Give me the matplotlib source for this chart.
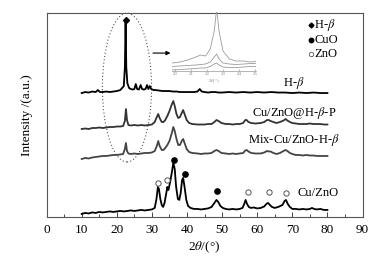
import matplotlib
matplotlib.use("Agg")
import matplotlib.pyplot as plt
from matplotlib.patches import Ellipse

plt.rcParams['font.family'] = ['Liberation Serif', 'DejaVu Serif']
plt.rcParams['mathtext.fontset'] = 'stix'

# ---------------- data (a.u.) ----------------
cuzno_x = [10, 11, 12, 13, 14, 15, 16, 17, 18, 19, 20, 21, 22, 23, 24, 25, 26, 27, 28, 29, 30,
           30.8, 31.3, 31.7, 32.0, 32.4, 32.8, 33.2, 33.6, 34.0, 34.4, 34.7, 35.2, 35.7, 36.1, 36.5,
           36.9, 37.4, 37.8, 38.2, 38.6, 38.9, 39.3, 39.8, 40.3, 41, 42, 43, 44, 45, 46, 47, 47.8,
           48.4, 48.9, 49.5, 50.2, 51, 52, 53, 54, 55, 55.8, 56.3, 56.7, 57.1, 57.6, 58.2, 59, 60,
           61, 62, 62.6, 63.1, 63.6, 64.2, 65, 66, 66.6, 67.2, 67.8, 68.2, 68.7, 69.3, 70, 71, 72,
           73, 74, 75, 75.6, 76.2, 77, 78, 79, 80]
cuzno_y = [3, 4, 3.5, 4.5, 4, 5, 4.5, 5, 5.5, 5, 5.5, 6, 5.5, 6, 6.5, 6, 6.5, 7, 6.5, 7, 7.5,
           9, 18, 30, 28, 18, 12, 10, 14, 22, 30, 27, 35, 45, 54, 48,
           30, 18, 17, 24, 37, 39, 30, 17, 11, 9, 8, 8, 7.5, 8, 8.5, 10, 14,
           17, 15, 11, 9, 8, 7.5, 8, 7.5, 8, 9, 13, 17, 13, 10, 9, 9.5, 8.5,
           9, 10.5, 13, 14, 12, 10, 9, 10, 11, 12, 16, 17, 13, 10, 8, 8, 7.5,
           8, 7.5, 8, 9, 8, 7.5, 8, 7, 7]

mix_x = [10, 11, 12, 13, 14, 15, 16, 17, 18, 19, 20, 21, 21.8, 22.3, 22.6, 22.9, 23.3, 24, 25, 26,
         27, 28, 29, 30, 30.8, 31.4, 31.8, 32.2, 32.8, 33.3, 33.8, 34.4, 35, 35.6, 36.1, 36.5, 37,
         37.5, 38, 38.5, 38.9, 39.3, 39.9, 40.6, 41.5, 43, 44, 45, 46, 47, 47.8, 48.4, 49, 49.8,
         51, 52, 53, 54, 55, 56, 56.6, 57, 57.5, 58.3, 59.5, 61, 62, 62.8, 63.3, 63.8, 64.6, 65.5,
         66.5, 67.5, 68.1, 68.6, 69.3, 70, 71, 72, 73, 74, 75, 76, 77, 78, 79, 80]
mix_y = [58, 59, 58.5, 59.5, 60, 60.5, 61, 61, 61.5, 62, 62, 62.5, 63, 68, 74, 66, 63.5, 63, 63.5, 63,
         63.5, 64, 64, 64.5, 66, 71, 76, 71, 67, 67, 69, 72, 76, 83, 90, 86, 78,
         72, 72, 76, 78, 74, 68, 65, 64, 63.5, 63, 63.5, 63.5, 64, 66, 67, 66, 64,
         63.5, 63, 63.5, 63, 63.5, 64, 66.5, 67, 65.5, 64, 63.5, 63.5, 64.5, 66, 65.5, 65.5, 64, 63,
         64, 66, 67, 66, 64, 63, 62, 62, 61.5, 62, 61.5, 61.5, 61, 61, 61, 61]

p_x = mix_x
p_y = [88, 88.5, 88, 89, 89, 89.5, 89, 89.5, 90, 90, 90.5, 90.5, 91, 96, 108, 97, 92, 91.5, 92, 91.5,
       92, 91.5, 92, 92.5, 95, 100, 103, 99, 95, 95, 97, 101, 106, 112, 116, 111, 103,
       99, 100, 104, 107, 103, 97, 94, 93, 92.5, 92.5, 92.5, 93, 93, 95, 97, 96, 94,
       93, 93, 92.5, 93, 93, 94, 97, 97, 95, 94, 93.5, 94, 95, 97, 97, 96, 95, 94,
       95, 96.5, 98, 96.5, 95, 94, 93.5, 93, 93, 93, 93.5, 93, 93, 93, 92.5, 92.5]

hb_x = [10, 11, 12, 13, 14, 14.6, 15.2, 16, 17, 18, 19, 20, 21, 21.5, 22.0, 22.3, 22.5, 22.7, 23.0,
        23.5, 24, 24.5, 25.0, 25.4, 25.8, 26.3, 26.8, 27.2, 27.7, 28.2, 28.6, 29.0, 29.4, 29.8,
        30.5, 31, 32, 33, 34, 35, 36, 37, 38, 39, 40, 41, 42, 43, 43.6, 44.2, 45, 46, 47, 48, 49,
        50, 52, 54, 56, 58, 60, 62, 64, 66, 68, 70, 72, 74, 76, 78, 80]
hb_y = [124, 125, 124.5, 125.5, 125, 127, 125, 125, 125.5, 125, 125.5, 126, 127, 129, 131, 150, 195, 150, 134,
        129, 128, 127.5, 128, 133, 128, 127.5, 132, 128, 127.5, 128, 132, 128, 131, 128,
        127, 127, 126.5, 126, 126, 126, 125.5, 125.5, 125, 125, 125, 125, 125, 125.5, 128, 125.5, 125, 124.5, 125, 125, 124.5,
        124.5, 125, 124.5, 125, 124.5, 125, 124.5, 125, 124.5, 124.5, 124, 124.5, 124, 124.5, 124, 124]

# inset (zoom of the 20-25 degree region)
in_x = [19.8, 20.3, 20.8, 21.3, 21.6, 21.9, 22.2, 22.45, 22.6, 22.75, 23.0, 23.4, 23.8, 24.3, 24.7, 25.05]
in_top = [8, 9, 11, 14, 16, 15, 22, 40, 62, 40, 20, 12, 10, 10, 9, 9.5]
in_mid = [4.5, 5, 5.5, 6, 6.5, 7, 9, 14, 17, 12, 8, 7, 6.5, 7, 7.5, 7.5]
in_low = [1, 1.5, 2, 2.5, 3, 3, 4.5, 7, 8, 6, 4, 3.5, 3.5, 4, 4.5, 4.5]
in_ticks = [20, 21, 22, 23, 24, 25]

hbeta_peak = [(22.5, 197)]
cuo_peaks = [(36.3, 57), (39.4, 43), (48.5, 26)]
zno_peaks = [(31.8, 34), (34.3, 37), (57.3, 25), (63.4, 25), (68.2, 24)]

labels = ['H-$\\beta$', 'Cu/ZnO@H-$\\beta$-P', 'Mix-Cu/ZnO-H-$\\beta$', 'Cu/ZnO']
label_pos = [(67.3, 134), (58.4, 104.5), (57.4, 77), (71.6, 24)]
legend_names = ['H-$\\beta$', 'CuO', 'ZnO']

# ---------------- figure ----------------
fig = plt.figure(figsize=(3.82, 2.62), dpi=100)
ax = fig.add_axes([0.122, 0.172, 0.827, 0.778])

ax.plot(hb_x, hb_y, color='black', lw=1.3)
ax.plot(p_x, p_y, color='#333333', lw=1.3)
ax.plot(mix_x, mix_y, color='#444444', lw=1.3)
ax.plot(cuzno_x, cuzno_y, color='black', lw=1.3)

for (x, y) in hbeta_peak:
    ax.plot(x, y, marker='D', ms=3.0, color='black', ls='none')
for (x, y) in cuo_peaks:
    ax.plot(x, y, marker='o', ms=3.8, color='black', ls='none')
for (x, y) in zno_peaks:
    ax.plot(x, y, marker='o', ms=3.8, mfc='white', mec='#555555', mew=0.7, ls='none')

for t, (x, y) in zip(labels, label_pos):
    ax.text(x, y, t, fontsize=9, ha='left', va='center')

# legend drawn as markers + text
leg_y = [192, 177, 163.5]
ax.plot(75.4, leg_y[0], marker='D', ms=2.5, color='black', ls='none')
ax.plot(75.4, leg_y[1], marker='o', ms=3.2, color='black', ls='none')
ax.plot(75.4, leg_y[2], marker='o', ms=3.2, mfc='white', mec='#555555', mew=0.6, ls='none')
for t, y in zip(legend_names, leg_y):
    ax.text(76.3, y, t, fontsize=9, ha='left', va='center')

# dotted ellipse and arrow
ax.add_patch(Ellipse((22.9, 129.5), 14.0, 149, fill=False, ls=(0, (1, 2)),
                     lw=0.8, edgecolor='#555555', clip_on=False))
ax.annotate('', xy=(35.3, 164), xytext=(30.3, 164),
            arrowprops=dict(arrowstyle='-|>', color='black', lw=0.8,
                            mutation_scale=6, shrinkA=0, shrinkB=0))

ax.set_xlim(0, 90)
ax.set_ylim(0, 204)
ax.set_xticks(range(0, 91, 10))
ax.set_xticks(range(5, 90, 10), minor=True)
ax.set_yticks([])
ax.tick_params(axis='x', which='major', direction='in', length=3.5, width=0.7,
               labelsize=9.5, pad=5, color='#444444')
ax.tick_params(axis='x', which='minor', direction='in', length=2, width=0.7, color='#444444')
for s in ax.spines.values():
    s.set_color('#555555')
    s.set_linewidth(0.8)
ax.set_xlabel('2$\\theta$/(°)', fontsize=9.5, labelpad=3)
ax.set_ylabel('Intensity /(a.u.)', fontsize=9.5, labelpad=10)

# inset
ins = fig.add_axes([0.450, 0.729, 0.220, 0.225])
ins.patch.set_alpha(0)
ins.plot(in_x, in_top, color='#9a9a9a', lw=0.6)
ins.plot(in_x, in_mid, color='#9a9a9a', lw=0.6)
ins.plot(in_x, in_low, color='#9a9a9a', lw=0.6)
ins.set_xlim(19.8, 25.06)
ins.set_ylim(0, 59)
ins.set_xticks(in_ticks)
ins.set_yticks([])
for k in ['left', 'right', 'top']:
    ins.spines[k].set_visible(False)
ins.spines['bottom'].set_color('#999999')
ins.spines['bottom'].set_linewidth(0.5)
ins.tick_params(axis='x', direction='in', length=1.5, width=0.4, labelsize=3.5,
                pad=0.8, colors='#888888')
ins.set_xlabel('2$\\theta$(°)', fontsize=3.5, labelpad=0.8, color='#888888')

fig.savefig('out.png', dpi=100)
